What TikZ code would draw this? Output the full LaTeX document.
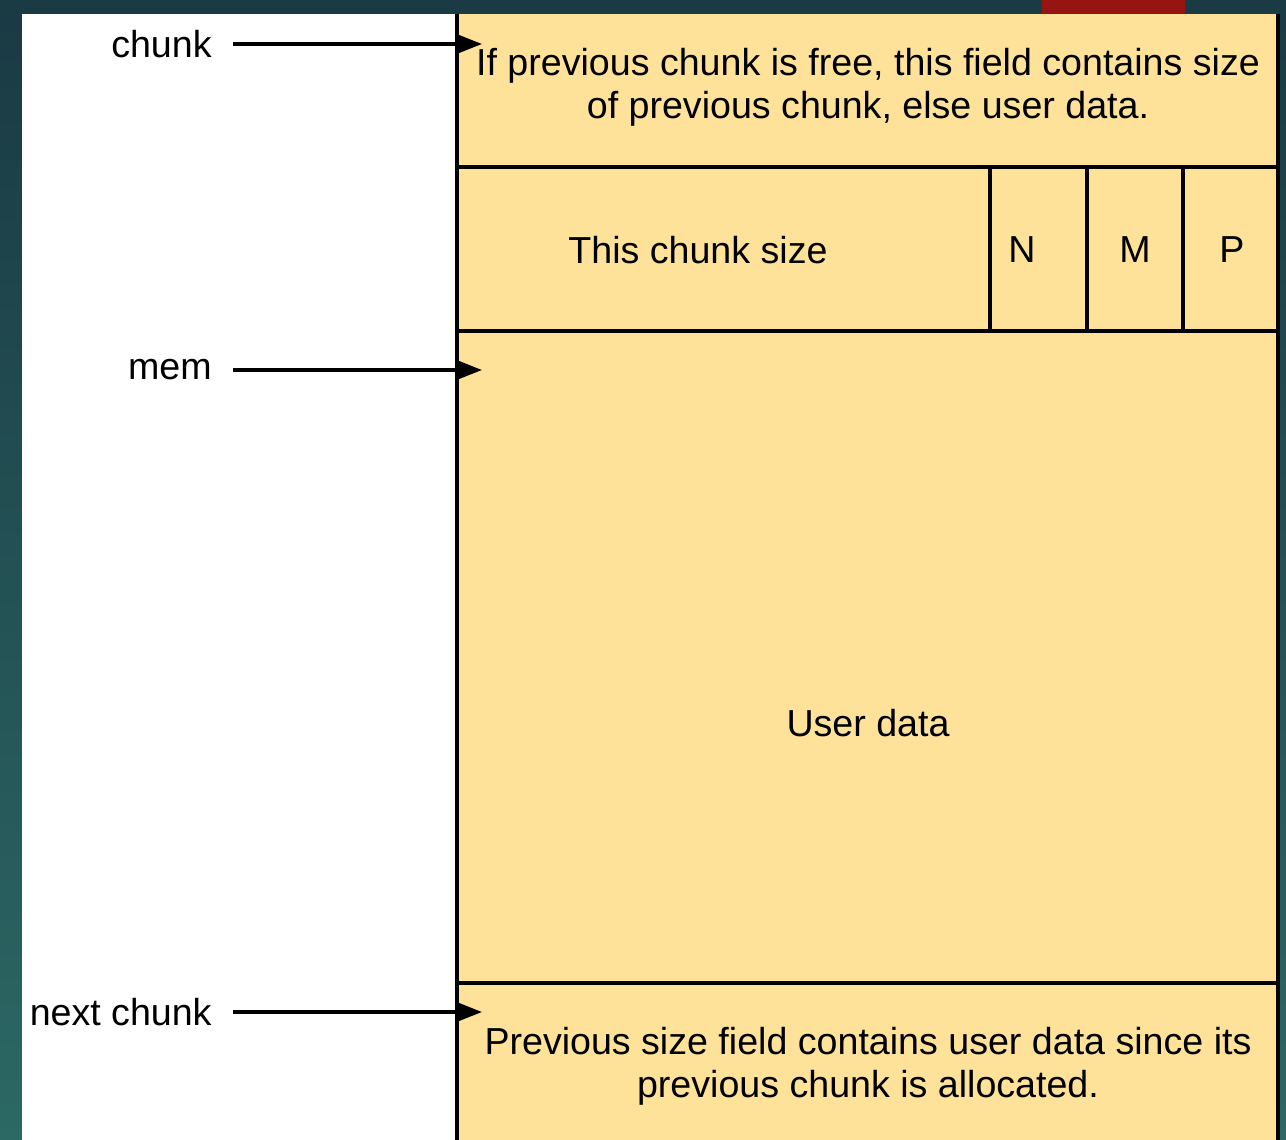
\documentclass[tikz,border=0pt]{standalone}
\usepackage{fontspec}
\setmainfont{Liberation Sans}
\usetikzlibrary{arrows.meta}
\definecolor{slidebg}{RGB}{44,104,100}
\definecolor{slidetop}{RGB}{26,58,68}
\definecolor{chunkfill}{RGB}{254,226,154}
\definecolor{slidered}{RGB}{150,20,18}
\tikzset{
  field/.style = {font=\fontsize{18.8pt}{21.5pt}\selectfont, align=center},
  ptrlabel/.style = {font=\fontsize{18.8pt}{21.5pt}\selectfont, anchor=east, inner xsep=10.5pt, inner ysep=0pt},
  ptr/.style = {line width=1.6pt, -{Triangle[length=12pt,width=9pt]}},
  wall/.style = {line width=1.6pt}
}

\begin{document}
\begin{tikzpicture}[x=0.5pt, y=-0.5pt]
  \useasboundingbox (0,0) rectangle (1286,1140);

  % slide background
  \shade[top color=slidetop, bottom color=slidebg] (0,0) rectangle (1286,1140);
  \fill[slidered] (1042,0) rectangle (1185,14);
  \fill[white] (22,14) rectangle (457,1140);
  \fill[chunkfill] (457,14) rectangle (1278,1140);

  % chunk layout
  \draw[wall] (457,14) -- (457,1140);
  \draw[wall] (1278,14) -- (1278,1140);
  \foreach \y in {167,331,983}
    \draw[wall] (457,\y) -- (1278,\y);
  \foreach \x in {990,1087,1183}
    \draw[wall] (\x,167) -- (\x,331);

  \node[field] (prevsize) at (868,87)
    {If previous chunk is free, this field contains size\\of previous chunk, else user data.};
  \node[field] (size) at (698,250) {This chunk size};
  \node[field] (nbit) at (1022,250) {N};
  \node[field] (mbit) at (1135,250) {M};
  \node[field] (pbit) at (1232,250) {P};
  \node[field] (user) at (868,723) {User data};
  \node[field] (nextprev) at (868,1066)
    {Previous size field contains user data since its\\previous chunk is allocated.};

  % pointers into the chunk
  \foreach \y/\name/\txt in {44/chunk/chunk,370/mem/mem,1012/next/next chunk} {
    \node[ptrlabel] (\name) at (233,\y) {\txt};
    \coordinate (\name tip) at (482,\y);
    \draw[ptr] (\name) -- (\name tip);
  }
\end{tikzpicture}
\end{document}
